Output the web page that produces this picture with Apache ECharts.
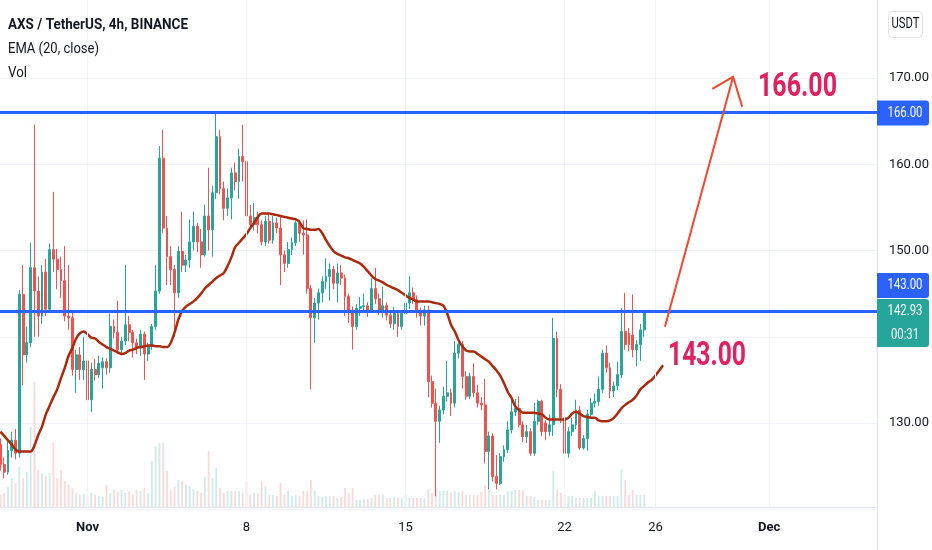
<!DOCTYPE html>
<html><head><meta charset="utf-8">
<script src="https://cdn.jsdelivr.net/npm/echarts@6/dist/echarts.min.js"></script>
<style>html,body{margin:0;padding:0;background:#fff}#c{width:932px;height:550px}</style>
</head><body><div id="c"></div>
<script>
// ---- data ----
const startTime = Date.UTC(2021, 9, 28, 4); // first 4h candle: Oct 28 04:00
const slotCount = 232;                       // 4h slots shown on the time axis
// [open, close, low, high]
const ohlc = [
[127.5,125.2,124.5,128.2],[125.2,124.3,123.6,126.0],[124.3,126.8,124.0,128.0],[126.8,128.0,126.0,129.0],[128.0,126.5,125.8,129.3],
[126.5,144.9,126.0,145.4],[144.9,137.9,134.4,148.3],[137.9,139.3,137.0,141.2],[139.3,148.0,138.8,150.9],[148.0,145.3,140.0,164.6],
[145.3,142.4,140.0,147.0],[142.4,147.5,141.5,148.3],[147.5,143.2,142.4,149.0],[143.2,150.1,142.8,150.8],[150.1,149.0,147.5,156.8],
[149.0,147.8,145.5,150.2],[147.8,146.5,144.5,149.3],[146.5,142.4,141.8,150.5],[142.4,142.2,140.8,148.3],[142.2,136.2,135.5,143.0],
[136.2,137.9,133.5,138.5],[137.9,136.2,135.0,138.8],[136.2,137.2,135.0,140.0],[137.2,132.7,132.0,138.5],[132.7,136.2,131.3,137.0],
[136.2,135.6,134.9,137.4],[135.6,136.9,135.2,137.8],[136.4,137.1,134.0,137.6],[137.1,136.4,135.6,137.5],[136.4,141.2,135.8,142.7],
[141.2,140.5,139.8,142.0],[140.5,138.5,138.0,144.2],[138.5,139.5,138.0,140.0],[139.5,141.4,139.0,148.3],[141.4,140.5,139.5,142.4],
[140.5,139.3,137.6,140.8],[139.3,138.8,138.0,139.8],[138.8,140.3,137.8,140.8],[140.3,138.0,135.0,140.6],[138.0,138.9,137.2,139.3],
[138.9,141.2,138.5,141.5],[141.2,145.3,140.8,148.3],[145.3,160.7,145.0,162.1],[160.7,152.6,152.0,164.0],[152.6,149.3,146.0,154.0],
[149.3,147.8,146.0,150.5],[147.8,145.1,140.0,148.3],[145.1,149.9,144.5,150.5],[149.9,148.3,147.5,154.5],[148.3,148.9,147.5,149.5],
[148.9,151.0,148.0,153.6],[151.0,152.8,150.0,154.5],[152.8,151.0,149.8,153.2],[151.0,149.5,148.0,152.5],[149.5,154.0,149.3,155.3],
[154.0,152.4,150.0,159.6],[152.4,156.7,149.3,157.5],[156.7,163.2,156.0,166.1],[163.2,157.2,156.5,164.0],[157.2,154.9,153.5,158.0],
[154.9,156.1,154.0,157.2],[156.1,159.0,153.6,159.6],[159.0,158.0,157.0,160.2],[158.0,160.9,156.0,161.8],[160.9,160.3,158.0,164.6],
[160.3,154.0,153.0,161.0],[154.0,153.0,152.5,155.3],[153.0,153.8,152.3,155.5],[153.8,153.0,152.0,154.5],[153.0,151.0,150.6,153.5],
[151.0,153.4,150.5,154.0],[153.4,151.2,150.8,154.2],[151.2,153.2,150.8,154.0],[153.2,152.6,152.0,153.8],[152.6,149.5,146.0,154.0],
[149.5,148.5,147.5,150.0],[148.5,150.1,148.0,151.0],[150.1,150.9,149.5,151.5],[150.9,153.2,150.5,153.4],[153.2,152.0,151.0,153.5],
[152.0,151.8,149.5,153.5],[151.8,145.6,145.0,153.6],[145.6,142.2,133.9,146.0],[142.2,143.9,139.3,144.5],[143.9,145.1,142.0,145.6],
[145.1,146.4,144.0,147.0],[146.4,147.0,145.5,149.1],[147.0,147.8,144.2,148.5],[147.8,146.2,145.5,148.2],[146.2,147.4,144.0,148.5],
[147.4,146.8,146.0,148.3],[146.8,144.7,142.4,147.2],[144.7,143.1,141.6,145.0],[143.1,141.2,138.5,143.5],[141.2,143.3,140.8,143.8],
[143.3,143.5,142.4,144.6],[143.5,143.6,142.8,145.0],[143.6,143.1,142.3,144.0],[143.1,145.6,142.8,146.8],[145.6,144.4,143.8,148.0],
[144.4,142.8,142.5,145.0],[142.8,143.6,142.2,145.8],[143.6,142.5,141.9,144.0],[142.5,141.5,141.0,143.1],[141.5,142.7,140.8,143.5],
[142.7,141.2,140.0,143.0],[141.2,142.7,140.8,143.1],[142.7,143.9,142.0,144.2],[143.9,145.1,143.2,147.0],[145.1,144.3,143.8,145.7],
[144.3,142.8,142.2,144.8],[142.8,142.4,141.3,143.4],[142.4,143.1,141.3,143.6],[143.1,134.8,133.0,143.6],[134.8,132.3,131.8,135.5],
[132.3,130.2,121.5,134.0],[130.2,131.5,127.7,132.0],[131.5,133.1,131.0,134.2],[133.1,133.5,132.5,137.2],[133.5,132.3,130.8,134.0],
[132.3,138.1,131.8,139.5],[138.1,139.1,137.5,139.5],[139.1,135.4,134.0,139.5],[135.4,133.1,132.7,136.0],[133.1,135.4,132.8,135.8],
[135.4,133.5,133.0,136.9],[133.5,132.3,131.8,134.4],[132.3,132.1,131.5,133.0],[132.1,126.7,125.3,135.1],[126.7,128.5,122.3,129.0],
[128.5,123.8,123.2,128.8],[123.8,123.0,122.3,126.3],[123.0,126.1,122.8,126.5],[126.1,126.9,125.5,127.4],[126.9,129.2,126.5,130.2],
[129.2,131.3,128.8,132.7],[131.3,131.7,130.8,132.8],[131.7,129.8,129.5,133.1],[129.8,128.4,127.8,130.2],[128.4,129.0,127.7,129.8],
[129.0,126.5,126.2,129.4],[126.5,130.2,126.2,132.3],[130.2,132.5,129.8,132.7],[132.5,129.0,128.5,132.7],[130.0,129.0,128.0,130.3],
[129.0,129.8,128.5,131.0],[129.8,139.8,128.5,142.2],[139.8,133.9,133.0,140.6],[133.9,130.6,130.0,134.5],[130.6,126.5,126.3,131.0],
[126.5,129.0,126.0,129.5],[129.0,129.8,128.5,130.6],[129.8,131.5,129.3,132.7],[131.5,127.1,126.9,132.0],[127.1,128.2,126.9,128.6],
[128.2,131.0,126.8,131.5],[131.0,132.3,130.5,132.9],[132.3,132.5,131.8,133.4],[132.5,133.9,132.0,135.4],[133.9,138.1,133.5,138.5],
[138.1,136.4,135.8,139.0],[136.4,133.7,132.9,137.0],[133.7,134.3,133.0,134.8],[134.3,135.6,133.8,137.1],[135.6,140.6,135.2,143.3],
[140.6,139.1,138.5,145.1],[140.4,139.1,138.3,141.0],[140.2,138.5,137.6,144.9],[138.5,139.1,136.6,139.6],[139.1,140.8,137.2,141.5],
[140.8,142.93,140.0,143.1]
];
const volume = [
12,14,20,29,24,40,29,35,80,125,
37,34,31,34,64,29,37,26,22,19,
14,12,13,11,14,12,11,10,22,14,
17,15,17,14,16,12,17,16,19,14,
46,61,64,64,36,17,20,27,26,22,
21,18,16,14,30,56,29,39,19,14,
16,16,16,16,14,26,12,14,14,26,
21,12,12,11,24,12,16,11,12,11,
16,16,27,16,11,10,11,11,11,9,
10,19,14,19,7,7,8,8,9,12,
12,12,9,9,10,9,9,12,9,9,
9,9,9,18,14,19,16,16,16,15,
16,15,16,12,12,12,12,15,22,17,
12,12,12,12,16,16,17,17,17,11,
11,10,7,7,7,7,36,17,14,12,
11,11,9,9,9,9,9,16,11,11,
11,11,11,11,38,27,12,17,12,12,12
];
const ema = [
129.0,128.5,128.0,127.5,126.9,126.7,126.7,126.7,126.7,127.4,
128.6,129.6,131.0,132.0,133.0,133.9,135.2,136.4,137.8,138.7,
139.8,140.4,140.6,140.3,139.9,139.8,139.4,139.1,138.8,138.6,
138.4,138.2,138.0,138.1,138.4,138.5,138.7,138.8,138.9,139.0,
139.0,138.9,138.9,138.8,138.8,139.3,140.5,142.0,143.0,143.5,
143.8,144.1,144.5,145.0,145.6,146.0,146.4,146.8,147.1,147.4,
148.2,149.2,150.4,150.9,151.4,151.9,152.6,153.2,153.9,154.3,
154.3,154.3,154.2,154.1,154.0,153.9,153.8,153.7,153.6,153.3,
152.6,152.5,152.4,152.4,152.5,152.0,151.2,150.5,149.9,149.6,
149.4,149.2,149.1,148.9,148.7,148.5,148.1,147.6,147.1,146.7,
146.5,146.3,146.0,145.8,145.6,145.4,145.1,144.8,144.5,144.3,
144.1,144.1,144.1,144.1,144.0,143.9,143.8,143.6,142.7,141.4,
140.6,139.6,138.9,138.4,138.3,138.3,138.0,137.7,137.4,137.1,
136.6,136.1,135.5,134.6,133.6,132.9,131.9,131.5,131.2,131.2,
131.2,131.2,131.1,131.0,130.6,130.4,130.4,130.4,130.4,130.4,
130.6,131.1,131.3,131.1,130.8,130.7,130.6,130.6,130.3,130.2,
130.2,130.3,130.6,131.1,131.7,132.1,132.4,132.7,133.2,133.9,
134.3,134.7,135.0,135.5,136.1,136.7
];
const xTicks = [
  {date:'11-01 00:00', text:'Nov', month:true},
  {date:'11-08 00:00', text:'8'},
  {date:'11-15 00:00', text:'15'},
  {date:'11-22 00:00', text:'22'},
  {date:'11-26 00:00', text:'26'},
  {date:'12-01 00:00', text:'Dec', month:true}
];
const yTickLabels = [130, 150, 160, 170];
const levels = [166, 143];
const lastPrice = 142.93;
const countdown = '00:31';
const arrowLine = [[175.5,141.16],[193.5,170.14]];
const arrowHead = [[188.0,168.75],[193.5,170.14],[195.9,166.67]];
const notes = [{text:'166.00', at:[210.5,168.93], w:79},{text:'143.00', at:[186.6,137.68], w:78}];
const legendLines = [
  {text:'AXS / TetherUS, 4h, BINANCE', bold:true, w:180},
  {text:'EMA (20, close)', w:91},
  {text:'Vol', w:19}
];

// ---- build ----
const pad = n => String(n).padStart(2,'0');
const categories = [];
for (let k = 0; k < slotCount; k++) {
  const d = new Date(startTime + k*4*3600*1000);
  categories.push(pad(d.getUTCMonth()+1)+'-'+pad(d.getUTCDate())+' '+pad(d.getUTCHours())+':00');
}
const tickMap = {};
xTicks.forEach(t => { tickMap[categories.indexOf(t.date)] = t; });

const UP = '#26a69a', DOWN = '#ef5350', BLUE = '#2962ff', TXT = '#131722';
const FONT = 'Roboto, "Liberation Sans", sans-serif';

const volData = volume.map((v,i) => ({
  value: v,
  itemStyle: {color: ohlc[i][1] >= ohlc[i][0] ? 'rgba(38,166,154,0.22)' : 'rgba(239,83,80,0.22)'}
}));

const chart = echarts.init(document.getElementById('c'), null, {renderer:'canvas'});
const option = {
  animation: false,
  backgroundColor: '#ffffff',
  grid: [
    {left: -1.5, top: -8.25, width: 878.5, height: 517.5, containLabel: false, outerBoundsMode: 'none'},
    {left: -1.5, top: 380, width: 878.5, height: 127, containLabel: false, outerBoundsMode: 'none'}
  ],
  xAxis: [
    {type:'category', gridIndex:0, data:categories, boundaryGap:true,
     axisLine:{show:false}, axisTick:{show:false}, axisLabel:{show:false}, splitLine:{show:false}},
    {type:'category', gridIndex:1, data:categories, boundaryGap:true,
     axisLine:{show:true, lineStyle:{color:'#e0e3eb'}}, axisTick:{show:false}, splitLine:{show:false},
     axisLabel:{show:true, margin:14, color:TXT, fontSize:13, fontFamily:FONT,
       interval:(idx) => tickMap[idx] !== undefined,
       formatter:(val, idx) => { const t = tickMap[idx]; if (!t) return ''; return t.month ? '{b|'+t.text+'}' : t.text; },
       rich:{b:{fontWeight:'bold', fontSize:13, fontFamily:FONT, color:TXT}}}}
  ],
  yAxis: [
    {type:'value', gridIndex:0, position:'right', min:120, max:180, interval:10,
     axisLine:{show:false}, axisTick:{show:false},
     splitLine:{show:true, lineStyle:{color:'#f0f3fa', width:1}},
     axisLabel:{margin:12, color:TXT, fontSize:13, fontFamily:FONT,
       formatter:v => yTickLabels.indexOf(v) >= 0 ? v.toFixed(2) : ''}},
    {type:'value', gridIndex:1, min:0, max:127, show:false}
  ],
  series: [
    {type:'line', name:'grid', xAxisIndex:0, yAxisIndex:0, data:[], z:0, silent:true,
     markLine:{silent:true, symbol:'none', label:{show:false}, animation:false,
       lineStyle:{color:'#f0f3fa', width:1, type:'solid'},
       data: xTicks.map(t => ({xAxis: t.date}))}},
    {type:'bar', name:'Vol', xAxisIndex:1, yAxisIndex:1, data:volData, barWidth:1.8, z:1, silent:true},
    {type:'candlestick', name:'AXS', xAxisIndex:0, yAxisIndex:0, data:ohlc, barWidth:2.4, z:3,
     itemStyle:{color:UP, color0:DOWN, borderColor:UP, borderColor0:DOWN, borderWidth:1},
     markLine:{silent:true, symbol:'none', label:{show:false}, animation:false,
       data: [
         {yAxis:lastPrice, lineStyle:{color:UP, width:1, type:'dotted'}},
         ...levels.map(l => ({yAxis:l, lineStyle:{color:BLUE, width:3, type:'solid'}}))
       ]}},
    {type:'line', name:'EMA', xAxisIndex:0, yAxisIndex:0, data:ema, showSymbol:false, symbol:'none',
     smooth:0.3, z:4, lineStyle:{color:'#ab2a0c', width:2.5}}
  ]
};
chart.setOption(option);

function toPx(idx, price) {
  const f = Math.floor(idx), fr = idx - f;
  const a = chart.convertToPixel({gridIndex:0}, [f, price]);
  const b = chart.convertToPixel({gridIndex:0}, [f+1, price]);
  return [a[0] + (b[0]-a[0])*fr, a[1]];
}
const py = p => chart.convertToPixel({yAxisIndex:0}, p);
const mctx = document.createElement('canvas').getContext('2d');
function fit(text, font, target) { mctx.font = font; return target / mctx.measureText(text).width; }

// condensed text element (the reference type is narrow)
function ctext(text, x, y, size, opts) {
  opts = opts || {};
  const font = (opts.bold ? 'bold ' : '') + size + 'px ' + FONT;
  return {type:'text', x:x, y:y, scaleX: opts.w ? fit(text, font, opts.w) : 1, z: opts.z || 11,
    style:{text:text, fill: opts.color || TXT, font:font, align: opts.align || 'left', verticalAlign:'middle'}};
}

const g = [];
g.push({type:'line', shape:{x1:877.5, y1:0, x2:877.5, y2:550}, style:{stroke:'#e0e3eb', lineWidth:1}, z:10});
g.push({type:'rect', shape:{x:888.5, y:11.5, width:34, height:26, r:4}, style:{fill:'#fff', stroke:'#e0e3eb', lineWidth:1}, z:10});
g.push(ctext('USDT', 905.5, 24.5, 15, {align:'center', w:28}));
legendLines.forEach((l, k) => g.push(ctext(l.text, 8, 25 + k*24, 15, {bold:l.bold, w:l.w})));

function priceBox(yTop, h, color, lines, widths) {
  g.push({type:'rect', shape:{x:877, y:yTop, width:52, height:h, r:[0,3,3,0]}, style:{fill:color}, z:12});
  lines.forEach((t, k) => g.push(ctext(t, 905, yTop + (k+0.5)*h/lines.length, 15,
    {align:'center', w:widths[k], color:'#ffffff', z:13})));
}
priceBox(py(levels[0]) - 12, 25, BLUE, [levels[0].toFixed(2)], [35]);
priceBox(py(levels[1]) - 38, 25, BLUE, [levels[1].toFixed(2)], [35]);
priceBox(py(lastPrice) - 12.5, 48, '#26a69a', [lastPrice.toFixed(2), countdown], [35, 28]);

const al = arrowLine.map(p => toPx(p[0], p[1]));
const ah = arrowHead.map(p => toPx(p[0], p[1]));
g.push({type:'polyline', shape:{points:al}, style:{stroke:'#f2472f', lineWidth:2, fill:null}, z:9});
g.push({type:'polyline', shape:{points:ah}, style:{stroke:'#f2472f', lineWidth:2, fill:null, lineJoin:'miter'}, z:9});

notes.forEach(n => {
  const p = toPx(n.at[0], n.at[1]);
  g.push(ctext(n.text, p[0], p[1], 34, {bold:true, align:'center', w:n.w, color:'#e2205f', z:9}));
});
chart.setOption({graphic: g});
</script>
</body></html>
